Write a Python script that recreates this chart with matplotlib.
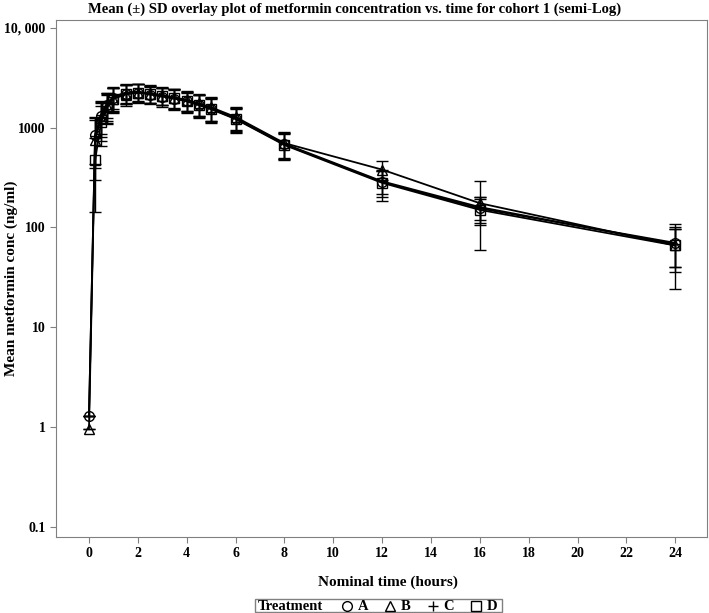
import numpy as np
import matplotlib.pyplot as plt
from matplotlib.lines import Line2D
from matplotlib.patches import Rectangle

plt.rcParams['font.family'] = ['Liberation Serif', 'DejaVu Serif']
plt.rcParams['font.weight'] = 'bold'

# nominal sampling times (hours)
tiempo = [0, 0.25, 0.5, 0.75, 1, 1.5, 2, 2.5, 3, 3.5, 4, 4.5, 5, 6, 8, 12, 16, 24]

# mean concentration (ng/ml) and SD per treatment
media_a = [1.3, 850, 1300, 1700, 2000, 2200, 2250, 2150, 2050, 1950, 1850, 1700, 1550, 1230, 680, 285, 155, 70]
sd_a = [0, 420, 500, 520, 520, 480, 460, 430, 420, 440, 420, 430, 420, 330, 200, 85, 45, 30]
media_b = [0.95, 750, 1250, 1650, 1950, 2150, 2250, 2200, 2100, 2000, 1900, 1750, 1600, 1280, 700, 380, 175, 66]
sd_b = [0, 450, 520, 540, 540, 500, 470, 450, 430, 450, 430, 440, 430, 340, 210, 80, 115, 42]
media_c = [1.3, 820, 1350, 1750, 2050, 2250, 2300, 2200, 2100, 2000, 1880, 1720, 1570, 1250, 690, 290, 160, 68]
sd_c = [0, 430, 480, 500, 500, 470, 450, 420, 410, 430, 410, 420, 410, 320, 190, 75, 40, 28]
media_d = [np.nan, 470, 1150, 1600, 1950, 2200, 2250, 2200, 2100, 1980, 1830, 1680, 1530, 1220, 670, 280, 150, 66]
sd_d = [np.nan, 327, 500, 520, 520, 480, 460, 440, 420, 440, 420, 430, 420, 330, 200, 95, 45, 30]

tratamentos = ['A', 'B', 'C', 'D']
marcadores = ['o', '^', '+', 's']
series = [(media_a, sd_a), (media_b, sd_b), (media_c, sd_c), (media_d, sd_d)]

W, H = 709, 613
fig = plt.figure(figsize=(W/100, H/100), dpi=100)
ax = fig.add_axes([56/W, 1 - 537/H, (707-56)/W, (537-20)/H])

cinza = '#808080'
for (m, s), mk in zip(series, marcadores):
    m = np.array(m, dtype=float)
    s = np.array(s, dtype=float)
    ax.errorbar(tiempo, m, yerr=s, color='black', lw=1.3, marker=mk, ms=7,
                mfc='none', mec='black', mew=1.0, capsize=4, elinewidth=1.0, capthick=1.0)

ax.set_yscale('log')
ax.set_ylim(0.079, 12000)
ax.set_xlim(-1.35, 25.3)
ax.set_xticks(range(0, 25, 2))
ax.set_yticks([0.1, 1, 10, 100, 1000, 10000])
ax.set_yticklabels(['0.1', '1', '10', '100', '1000', '10, 000'])
ax.yaxis.set_minor_locator(plt.NullLocator())
for sp in ax.spines.values():
    sp.set_color(cinza)
ax.tick_params(colors=cinza, labelcolor='black', labelsize=10, length=4)
for lb in ax.get_xticklabels() + ax.get_yticklabels():
    lb.set_fontweight('bold')

fig.text(388/W, 1 - 582/H, 'Nominal time (hours)', fontsize=11, fontweight='bold', ha='center', va='center')
fig.text(11/W, 1 - 278/H, 'Mean metformin conc (ng/ml)', fontsize=11, fontweight='bold',
         ha='center', va='center', rotation=90)
fig.text(0.5, 1 - 9/H, 'Mean (\u00b1) SD overlay plot of metformin concentration vs. time for cohort 1 (semi-Log)',
         fontsize=10.5, fontweight='bold', ha='center', va='center')

# legend box drawn by hand, SAS style
ly = 1 - 606/H
fig.patches.append(Rectangle((255/W, 1 - 612/H), (502-255)/W, 13/H, transform=fig.transFigure,
                             fill=False, edgecolor=cinza, lw=1.0))
fig.text(258/W, ly, 'Treatment', fontsize=10.5, fontweight='bold', ha='left', va='center')
x0 = 347
for t, mk in zip(tratamentos, marcadores):
    fig.add_artist(Line2D([x0/W], [ly], transform=fig.transFigure, linestyle='none', marker=mk, ms=7,
                          mfc='none', mec='black', mew=1.0))
    fig.text((x0 + 16)/W, ly, t, fontsize=10.5, fontweight='bold', ha='center', va='center')
    x0 += 43

fig.savefig('out.png', dpi=100)
